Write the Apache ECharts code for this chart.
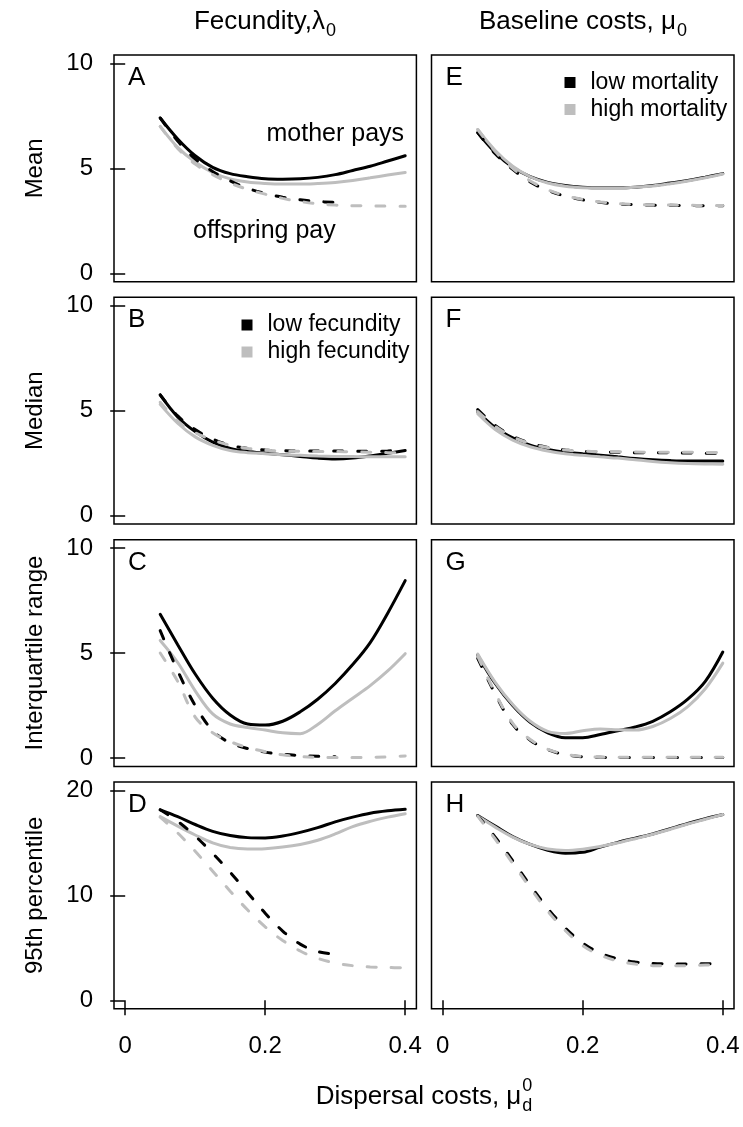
<!DOCTYPE html>
<html>
<head>
<meta charset="utf-8">
<script src="https://cdn.jsdelivr.net/npm/echarts@6/dist/echarts.min.js"></script>
<style>
  html, body { margin: 0; padding: 0; background: #fff; }
  #chart { width: 743px; height: 1127px; }
</style>
</head>
<body>
<div id="chart"></div>
<script>
// dispersal cost values along x
var xs = [0.05, 0.075, 0.1, 0.125, 0.15, 0.175, 0.2, 0.225, 0.25, 0.275, 0.3, 0.325, 0.35, 0.375, 0.4];
var xTicks = [0, 0.2, 0.4];
var yTicks10 = [0, 5, 10];
var yTicks20 = [0, 10, 20];

// A: mean, fecundity
var aMotherLow  = [7.4, 6.4, 5.6, 5.05, 4.75, 4.6, 4.5, 4.48, 4.5, 4.57, 4.7, 4.9, 5.1, 5.35, 5.6];
var aMotherHigh = [7.0, 6.0, 5.3, 4.8, 4.5, 4.35, 4.28, 4.25, 4.25, 4.28, 4.33, 4.42, 4.55, 4.68, 4.8];
var aOffLow     = [7.4, 6.3, 5.45, 4.85, 4.4, 4.05, 3.8, 3.62, 3.5, 3.42, 3.38, null, null, null, null];
var aOffHigh    = [7.0, 5.95, 5.2, 4.7, 4.3, 4.0, 3.77, 3.57, 3.42, 3.31, 3.25, 3.22, 3.21, 3.2, 3.2];
// B: median, fecundity
var bMotherLow  = [5.75, 4.7, 4.0, 3.5, 3.2, 3.05, 2.97, 2.9, 2.82, 2.74, 2.7, 2.74, 2.84, 2.97, 3.1];
var bMotherHigh = [5.3, 4.4, 3.75, 3.35, 3.1, 3.0, 2.95, 2.9, 2.87, 2.84, 2.82, 2.81, 2.8, 2.8, 2.8];
var bOffLow     = [5.75, 4.75, 4.1, 3.65, 3.35, 3.2, 3.12, 3.09, 3.08, 3.08, 3.08, 3.07, 3.06, 3.08, 3.15];
var bOffHigh    = [5.4, 4.5, 3.95, 3.6, 3.35, 3.2, 3.12, 3.08, 3.06, 3.05, 3.05, 3.04, 3.02, 3.0, 2.97];
// C: interquartile range, fecundity
var cMotherLow  = [6.85, 5.4, 4.0, 2.85, 2.05, 1.62, 1.57, 1.75, 2.2, 2.8, 3.55, 4.45, 5.5, 6.9, 8.45];
var cMotherHigh = [5.6, 4.55, 3.2, 2.1, 1.62, 1.45, 1.33, 1.2, 1.16, 1.6, 2.25, 2.85, 3.45, 4.15, 4.97];
var cOffLow     = [6.07, 4.15, 2.5, 1.3, 0.72, 0.45, 0.28, 0.18, 0.12, 0.08, 0.06, null, null, null, null];
var cOffHigh    = [5.0, 3.65, 1.95, 1.2, 0.78, 0.5, 0.3, 0.15, 0.07, 0.03, 0.02, 0.02, 0.03, 0.05, 0.1];
// D: 95th percentile, fecundity
var dMotherLow  = [18.15, 17.5, 16.75, 16.1, 15.7, 15.5, 15.47, 15.65, 16.0, 16.45, 17.0, 17.45, 17.82, 18.05, 18.2];
var dMotherHigh = [17.5, 16.6, 15.75, 15.0, 14.55, 14.42, 14.45, 14.6, 14.85, 15.25, 15.85, 16.55, 17.05, 17.45, 17.78];
var dOffLow     = [18.15, 17.05, 15.65, 14.0, 12.2, 10.25, 8.3, 6.6, 5.35, 4.65, 4.38, null, null, null, null];
var dOffHigh    = [17.45, 15.95, 14.2, 12.3, 10.4, 8.6, 7.0, 5.7, 4.7, 4.0, 3.55, 3.3, 3.18, 3.12, 3.1];
// E: mean, baseline costs
var eMotherLow  = [6.7, 5.75, 5.05, 4.6, 4.33, 4.18, 4.1, 4.07, 4.07, 4.1, 4.18, 4.3, 4.42, 4.58, 4.75];
var eMotherHigh = [6.85, 5.85, 5.1, 4.6, 4.3, 4.15, 4.08, 4.06, 4.06, 4.1, 4.16, 4.27, 4.4, 4.55, 4.73];
var eOffLow     = [6.7, 5.7, 4.95, 4.35, 3.95, 3.68, 3.5, 3.38, 3.3, 3.27, 3.25, 3.24, 3.23, 3.22, 3.22];
var eOffHigh    = [6.85, 5.8, 5.0, 4.4, 3.98, 3.7, 3.52, 3.4, 3.32, 3.28, 3.26, 3.25, 3.24, 3.23, 3.23];
// F: median, baseline costs
var fMotherLow  = [4.95, 4.2, 3.7, 3.35, 3.15, 3.02, 2.95, 2.88, 2.8, 2.72, 2.66, 2.62, 2.6, 2.6, 2.6];
var fMotherHigh = [4.85, 4.1, 3.6, 3.28, 3.08, 2.95, 2.87, 2.8, 2.74, 2.66, 2.58, 2.52, 2.48, 2.46, 2.45];
var fOffLow     = [5.05, 4.3, 3.78, 3.45, 3.25, 3.12, 3.06, 3.03, 3.02, 3.0, 3.0, 2.99, 2.98, 2.97, 2.97];
var fOffHigh    = [4.95, 4.25, 3.75, 3.43, 3.24, 3.12, 3.07, 3.05, 3.04, 3.03, 3.02, 3.02, 3.02, 3.01, 3.0];
// G: interquartile range, baseline costs
var gMotherLow  = [4.9, 3.55, 2.5, 1.7, 1.2, 0.97, 0.97, 1.12, 1.3, 1.48, 1.75, 2.2, 2.8, 3.65, 5.05];
var gMotherHigh = [4.95, 3.6, 2.55, 1.75, 1.27, 1.17, 1.3, 1.38, 1.35, 1.33, 1.5, 1.88, 2.45, 3.3, 4.52];
var gOffLow     = [4.75, 3.05, 1.6, 0.85, 0.4, 0.16, 0.06, 0.03, 0.02, 0.02, 0.02, 0.02, 0.02, 0.02, 0.02];
var gOffHigh    = [4.85, 3.1, 1.65, 0.88, 0.42, 0.18, 0.07, 0.04, 0.03, 0.03, 0.03, 0.03, 0.03, 0.03, 0.03];
// H: 95th percentile, baseline costs
var hMotherLow  = [17.6, 16.6, 15.6, 14.85, 14.3, 14.02, 14.1, 14.6, 15.05, 15.45, 15.85, 16.35, 16.85, 17.3, 17.7];
var hMotherHigh = [17.55, 16.5, 15.55, 14.85, 14.42, 14.28, 14.4, 14.65, 15.0, 15.4, 15.82, 16.3, 16.8, 17.25, 17.7];
var hOffLow     = [17.6, 15.55, 13.3, 10.95, 8.75, 6.9, 5.45, 4.5, 3.95, 3.65, 3.5, 3.47, 3.47, 3.48, 3.5];
var hOffHigh    = [17.55, 15.35, 13.05, 10.7, 8.5, 6.65, 5.2, 4.3, 3.75, 3.45, 3.3, 3.28, 3.3, 3.36, 3.42];

var FONT = '"Liberation Sans", Arial, sans-serif';
var BLACK = '#000000', GREY = '#bebebe';

var rowTops = [55, 297.3, 539.7, 782];
var rowH = 226.7;
var colLeft = [114, 431.5];
var colW = [302.4, 302.5];

// panel list, A-D left column, E-H right column
var panels = [
  { letter: 'A', row: 0, col: 0, yName: 'Mean', lines: [aMotherLow, aMotherHigh, aOffLow, aOffHigh] },
  { letter: 'B', row: 1, col: 0, yName: 'Median', lines: [bMotherLow, bMotherHigh, bOffLow, bOffHigh] },
  { letter: 'C', row: 2, col: 0, yName: 'Interquartile range', lines: [cMotherLow, cMotherHigh, cOffLow, cOffHigh] },
  { letter: 'D', row: 3, col: 0, yName: '95th percentile', lines: [dMotherLow, dMotherHigh, dOffLow, dOffHigh] },
  { letter: 'E', row: 0, col: 1, lines: [eMotherLow, eMotherHigh, eOffLow, eOffHigh] },
  { letter: 'F', row: 1, col: 1, lines: [fMotherLow, fMotherHigh, fOffLow, fOffHigh] },
  { letter: 'G', row: 2, col: 1, lines: [gMotherLow, gMotherHigh, gOffLow, gOffHigh] },
  { letter: 'H', row: 3, col: 1, lines: [hMotherLow, hMotherHigh, hOffLow, hOffHigh] }
];

var grids = [], xAxes = [], yAxes = [], series = [], graphics = [];

panels.forEach(function (p, i) {
  var bottomRow = p.row === 3;
  var yMax = bottomRow ? 20 : 10;
  var ticks = bottomRow ? yTicks20 : yTicks10;
  var leftCol = p.col === 0;
  grids.push({
    left: colLeft[p.col], top: rowTops[p.row], width: colW[p.col], height: rowH,
    show: true, borderColor: BLACK, borderWidth: 1.5, backgroundColor: 'transparent'
  });
  xAxes.push({
    type: 'value', gridIndex: i, min: -0.016, max: 0.416,
    axisLine: { show: false }, splitLine: { show: false },
    axisTick: { show: bottomRow, customValues: xTicks, length: 15, lineStyle: { color: BLACK, width: 1.5 } },
    axisLabel: { show: bottomRow, customValues: xTicks, margin: 26, fontSize: 24, color: BLACK, fontFamily: FONT }
  });
  yAxes.push({
    type: 'value', gridIndex: i, min: -yMax * 0.04, max: yMax * 1.04,
    name: leftCol ? p.yName : '', nameLocation: 'middle', nameGap: 67,
    nameTextStyle: { fontSize: 24, color: BLACK, fontFamily: FONT },
    axisLine: { show: false }, splitLine: { show: false },
    axisTick: { show: leftCol, customValues: ticks, length: 15, lineStyle: { color: BLACK, width: 1.5 } },
    axisLabel: { show: leftCol, customValues: ticks, margin: 21, fontSize: 24, color: BLACK, fontFamily: FONT }
  });
  var names = leftCol ? ['low fecundity', 'high fecundity'] : ['low mortality', 'high mortality'];
  var styles = [
    { name: names[0], color: BLACK, dash: false },
    { name: names[1], color: GREY, dash: false },
    { name: names[0], color: BLACK, dash: true },
    { name: names[1], color: GREY, dash: true }
  ];
  p.lines.forEach(function (arr, k) {
    var s = styles[k];
    series.push({
      type: 'line', name: s.name, xAxisIndex: i, yAxisIndex: i,
      data: xs.map(function (x, j) { return [x, arr[j]]; }),
      symbol: 'none', smooth: 0.35, silent: true,
      itemStyle: { color: s.color },
      lineStyle: { color: s.color, width: 3, type: s.dash ? [9, 15] : 'solid', cap: 'round' },
      emphasis: { disabled: true }
    });
  });
  // panel letter
  graphics.push({
    type: 'text', x: colLeft[p.col] + 14, y: rowTops[p.row] + 23,
    style: { text: p.letter, font: '26px ' + FONT, fill: BLACK, verticalAlign: 'middle', align: 'left' }
  });
});

// annotations in panel A
graphics.push({ type: 'text', x: 266.5, y: 134, style: { text: 'mother pays', font: '25px ' + FONT, fill: BLACK, verticalAlign: 'middle' } });
graphics.push({ type: 'text', x: 193, y: 231, style: { text: 'offspring pay', font: '25px ' + FONT, fill: BLACK, verticalAlign: 'middle' } });

// titles with sub / superscripts
var measureCtx = document.createElement('canvas').getContext('2d');
function mathText(cx, cy, main, sub, sup) {
  var big = 26, small = 18;
  measureCtx.font = big + 'px ' + FONT;
  var wm = measureCtx.measureText(main).width;
  measureCtx.font = small + 'px ' + FONT;
  var ws = Math.max(sub ? measureCtx.measureText(sub).width : 0, sup ? measureCtx.measureText(sup).width : 0);
  var x0 = cx - (wm + 1 + ws) / 2;
  graphics.push({ type: 'text', x: x0, y: cy, style: { text: main, font: big + 'px ' + FONT, fill: BLACK, verticalAlign: 'middle' } });
  if (sub) graphics.push({ type: 'text', x: x0 + wm + 1, y: cy + 9, style: { text: sub, font: small + 'px ' + FONT, fill: BLACK, verticalAlign: 'middle' } });
  if (sup) graphics.push({ type: 'text', x: x0 + wm + 1, y: cy - 11, style: { text: sup, font: small + 'px ' + FONT, fill: BLACK, verticalAlign: 'middle' } });
}
mathText(265, 22, 'Fecundity,\u03bb', '0');
mathText(583, 22, 'Baseline costs, \u03bc', '0');
mathText(424, 1097, 'Dispersal costs, \u03bc', 'd', '0');

var legendBase = {
  orient: 'vertical', icon: 'rect', itemWidth: 11, itemHeight: 11, itemGap: 4,
  selectedMode: false,
  textStyle: { fontSize: 23, color: BLACK, fontFamily: FONT, padding: [0, 0, 0, 10] }
};

var chart = echarts.init(document.getElementById('chart'));
chart.setOption({
  animation: false,
  backgroundColor: '#fff',
  grid: grids,
  xAxis: xAxes,
  yAxis: yAxes,
  legend: [
    Object.assign({}, legendBase, { data: ['low fecundity', 'high fecundity'], left: 236.5, top: 308.5 }),
    Object.assign({}, legendBase, { data: ['low mortality', 'high mortality'], left: 559.5, top: 66 })
  ],
  graphic: graphics,
  series: series
});
</script>
</body>
</html>
